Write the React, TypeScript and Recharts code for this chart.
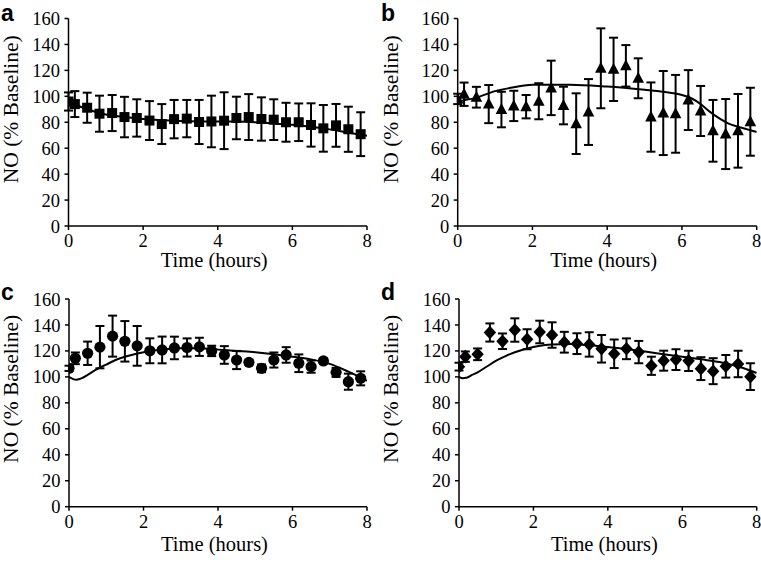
import React from 'react';
import { ComposedChart, Scatter, Line, XAxis, YAxis, ErrorBar } from 'recharts';

// ---- data ----
const hours = [0, 0.17, 0.5, 0.83, 1.17, 1.5, 1.83, 2.17, 2.5, 2.83, 3.17, 3.5, 3.83, 4.17, 4.5, 4.83, 5.17, 5.5, 5.83, 6.17, 6.5, 6.83, 7.17, 7.5, 7.83];

const aValues = [96, 94, 91.2, 86.6, 87.1, 84, 83.3, 81.3, 78.6, 82.4, 82.8, 80.2, 80.6, 81.2, 83.3, 84, 82.5, 82, 80, 80, 77.9, 75.3, 77.6, 74.6, 70.8];
const aErrors = [7, 10, 11.6, 13.9, 13.9, 15.6, 14.4, 15, 15.4, 14.8, 14.4, 17, 19.9, 21.9, 16.4, 17.7, 16.7, 15.7, 15, 14.5, 16.7, 18, 16.5, 17.4, 16.9];

const bValues = [98, 101.6, 99.3, 94, 89.8, 92.6, 92, 96.2, 106.5, 92.9, 78.9, 87.9, 121.6, 120.8, 123.5, 113.9, 84, 87.1, 86.5, 97.1, 88.7, 73.4, 70.9, 73.4, 80.4];
const bErrors = [4, 9, 8, 14.7, 13.7, 11.7, 9, 13.9, 21, 14.5, 23.4, 25.4, 30.8, 24.4, 16, 15.4, 26.7, 32.4, 30, 23.1, 19.3, 23.8, 27, 28.4, 26.2];

const cValues = [106.6, 114.3, 118.2, 122.9, 131.4, 127.4, 123.9, 120.1, 120.75, 122.3, 122.65, 123.15, 120, 116.9, 113, 111.2, 106.6, 113, 116.9, 110.5, 107.9, 112.3, 103.5, 96.3, 98.9];
const cErrors = [2, 4.5, 9, 16.3, 15.8, 15.6, 15.3, 9.6, 10.3, 8.7, 7, 7, 4, 6.8, 7, 2, 3, 5.8, 6, 6.8, 4.7, 2, 3.5, 6.2, 5.4];

const dValues = [107.9, 115.6, 117.4, 134.2, 127.45, 136.1, 129, 134.6, 132.25, 126.7, 125.6, 125, 121.65, 117.8, 121.65, 119.1, 108.55, 112.5, 113.3, 112.35, 106.35, 104.4, 108.15, 109.95, 100.2];
const dErrors = [3, 4, 4.5, 7, 6, 9, 7.7, 8.7, 9.8, 8, 8, 9.4, 10.6, 11, 8, 8.6, 7, 7.7, 8, 7.8, 8.8, 10, 8.7, 10.2, 10.3];

const fitAHours = [0, 0.5, 1, 1.5, 2, 3, 4, 4.5, 5, 5.5, 6, 6.5, 7, 7.5, 8];
const fitAValues = [96, 90, 86, 84, 82.5, 81, 80.5, 80.5, 80, 79, 78, 76.5, 74.5, 72, 69.5];

const fitBHours = [0, 0.5, 1, 1.5, 2, 3, 4, 5, 5.5, 6, 6.25, 6.5, 6.75, 7, 7.25, 7.5, 7.75, 8];
const fitBValues = [96, 99, 104, 107, 109, 109, 107.5, 105, 103.5, 101, 98.5, 94, 88, 83, 79, 76.5, 74.5, 72.5];

const fitCHours = [0, 0.1, 0.2, 0.35, 0.5, 0.75, 1, 1.25, 1.5, 2, 2.5, 3, 3.5, 4, 4.5, 5, 5.5, 6, 6.5, 7, 7.5, 8];
const fitCValues = [100, 98.5, 97.8, 99, 101.5, 106, 109.5, 113, 115.5, 119, 121, 122, 122, 121, 120, 119, 117.5, 115.5, 113.5, 110, 104, 97];

const fitDHours = [0, 0.1, 0.2, 0.35, 0.5, 0.75, 1, 1.25, 1.5, 2, 2.5, 3, 3.5, 4, 4.5, 5, 5.5, 6, 6.5, 7, 7.5, 8];
const fitDValues = [100, 99, 99.3, 101.5, 103.5, 108, 112.5, 116, 119, 123, 125, 125.3, 124.3, 123, 121.5, 119.5, 117.5, 115.5, 113.5, 111.5, 108, 103];

const xTicks = [0, 2, 4, 6, 8];
const yTicks = [0, 20, 40, 60, 80, 100, 120, 140, 160];
const xLabel = 'Time (hours)';
const yLabel = 'NO (% Baseline)';

const toPoints = (xs: number[], ys: number[], es?: number[]) =>
  xs.map((x, i) => ({ x, y: ys[i], e: es ? es[i] : 0 }));

// ---- marker shapes ----
const SquareShape = (p: any) => <rect x={p.cx - 5} y={p.cy - 5} width={10} height={10} fill="#000" />;
const TriangleShape = (p: any) => (
  <polygon points={`${p.cx},${p.cy - 6.5} ${p.cx - 5.8},${p.cy + 4.5} ${p.cx + 5.8},${p.cy + 4.5}`} fill="#000" />
);
const CircleShape = (p: any) => <circle cx={p.cx} cy={p.cy} r={5.6} fill="#000" />;
const DiamondShape = (p: any) => (
  <polygon points={`${p.cx},${p.cy - 6.8} ${p.cx + 6.2},${p.cy} ${p.cx},${p.cy + 6.8} ${p.cx - 6.2},${p.cy}`} fill="#000" />
);

const serif = '"Liberation Serif", "Times New Roman", serif';

type PanelProps = {
  left: number; top: number; width: number; height: number;
  marginTop: number; marginRight: number; yAxisWidth: number; xAxisHeight: number;
  points: { x: number; y: number; e: number }[];
  fit: { x: number; y: number; e: number }[];
  shape: any;
  yLabelDx: number; yLabelDy: number; xLabelDx: number; xLabelDy: number;
};

function Panel(props: PanelProps) {
  const tickStyle = { fill: '#000', fontSize: 18.5, fontFamily: serif };
  return (
    <div style={{ position: 'absolute', left: props.left, top: props.top }}>
      <ComposedChart
        width={props.width}
        height={props.height}
        margin={{ top: props.marginTop, right: props.marginRight, bottom: 0, left: 0 }}
      >
        <XAxis
          type="number"
          dataKey="x"
          domain={[0, 8]}
          ticks={xTicks}
          interval={0}
          allowDataOverflow
          height={props.xAxisHeight}
          tick={tickStyle}
          tickSize={4}
          tickMargin={4}
          stroke="#000"
          strokeWidth={1.5}
          tickLine={{ stroke: '#000', strokeWidth: 1.5 }}
          label={{ value: xLabel, position: 'center', dx: props.xLabelDx, dy: props.xLabelDy, fill: '#000', fontSize: 20.5, fontFamily: serif }}
        />
        <YAxis
          type="number"
          dataKey="y"
          domain={[0, 160]}
          ticks={yTicks}
          interval={0}
          allowDataOverflow
          width={props.yAxisWidth}
          tick={tickStyle}
          tickSize={4}
          tickMargin={4.5}
          stroke="#000"
          strokeWidth={1.5}
          tickLine={{ stroke: '#000', strokeWidth: 1.5 }}
          label={{ value: yLabel, angle: -90, position: 'center', dx: props.yLabelDx, dy: props.yLabelDy, fill: '#000', fontSize: 21.5, fontFamily: serif }}
        />
        <Line
          data={props.fit}
          dataKey="y"
          type="monotone"
          stroke="#000"
          strokeWidth={2}
          dot={false}
          activeDot={false}
          isAnimationActive={false}
        />
        <Scatter data={props.points} dataKey="y" shape={props.shape} isAnimationActive={false}>
          <ErrorBar dataKey="e" direction="y" width={4.5} stroke="#000" strokeWidth={2} />
        </Scatter>
      </ComposedChart>
    </div>
  );
}

export default function App() {
  const letterStyle = { fontFamily: '"Liberation Sans", Arial, sans-serif', fontWeight: 700, fontSize: 23 } as const;
  return (
    <div style={{ position: 'absolute', left: 0, top: 0, width: 761, height: 563, background: '#fff', overflow: 'hidden' }}>
      <Panel left={0} top={0} width={380} height={280} marginTop={18.5} marginRight={13} yAxisWidth={68.5} xAxisHeight={54}
        points={toPoints(hours, aValues, aErrors)} fit={toPoints(fitAHours, fitAValues)} shape={SquareShape}
        yLabelDx={-24.25} yLabelDy={-13} xLabelDx={-3.5} xLabelDy={7} />
      <Panel left={380} top={0} width={381} height={280} marginTop={18.5} marginRight={4.3} yAxisWidth={77.7} xAxisHeight={54}
        points={toPoints(hours, bValues, bErrors)} fit={toPoints(fitBHours, fitBValues)} shape={TriangleShape}
        yLabelDx={-28.85} yLabelDy={-13} xLabelDx={-3.5} xLabelDy={7} />
      <Panel left={0} top={280} width={380} height={283} marginTop={19} marginRight={13} yAxisWidth={69} xAxisHeight={56.3}
        points={toPoints(hours, cValues, cErrors)} fit={toPoints(fitCHours, fitCValues)} shape={CircleShape}
        yLabelDx={-24.5} yLabelDy={-14} xLabelDx={-3.5} xLabelDy={8.5} />
      <Panel left={380} top={280} width={381} height={283} marginTop={19} marginRight={4.3} yAxisWidth={79} xAxisHeight={56.3}
        points={toPoints(hours, dValues, dErrors)} fit={toPoints(fitDHours, fitDValues)} shape={DiamondShape}
        yLabelDx={-29.5} yLabelDy={-14} xLabelDx={-3.5} xLabelDy={8.5} />
      <svg width={761} height={563} style={{ position: 'absolute', left: 0, top: 0, pointerEvents: 'none' }}>
        <text x={1} y={20.5} {...letterStyle}>a</text>
        <text x={381} y={20.5} {...letterStyle}>b</text>
        <text x={1} y={300} {...letterStyle}>c</text>
        <text x={381} y={300} {...letterStyle}>d</text>
      </svg>
    </div>
  );
}
